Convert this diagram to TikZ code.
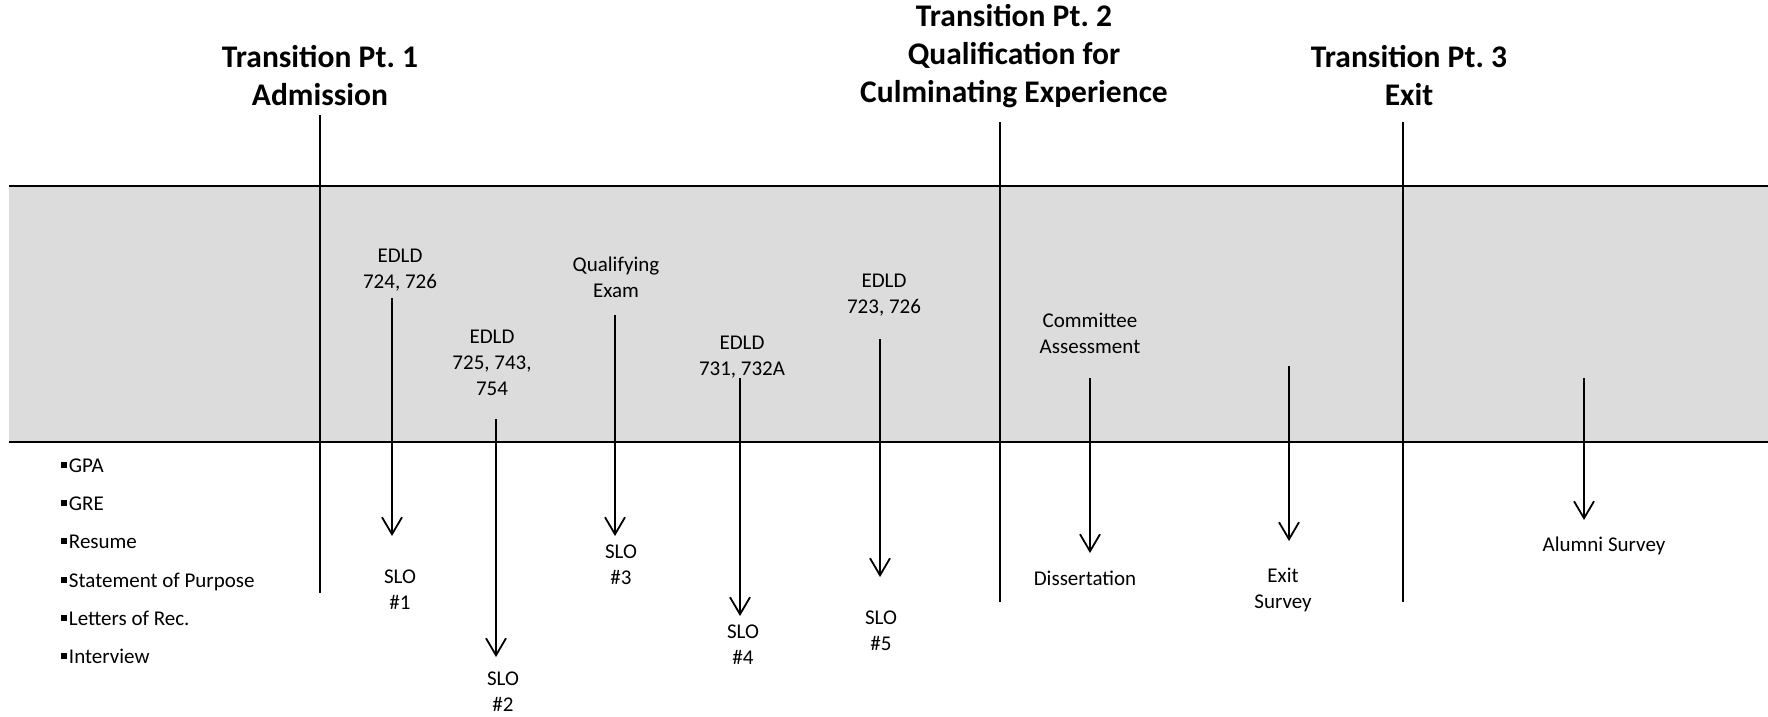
\documentclass[tikz,border=0pt]{standalone}
\usepackage{fontspec}
\setmainfont{Carlito}
\usetikzlibrary{arrows.meta}
\definecolor{band}{HTML}{DCDCDC}
\newcommand{\sq}{\rule[0.19em]{0.29em}{0.29em}\hspace{0.08em}}
\begin{document}
\frenchspacing
\begin{tikzpicture}[x=1pt,y=-1pt,
  title/.style={font=\fontsize{31.5}{38}\selectfont\bfseries, align=center, inner sep=0pt},
  lbl/.style={font=\fontsize{21}{25.7}\selectfont, align=center, inner sep=0pt},
  item/.style={font=\fontsize{21}{25.7}\selectfont, anchor=base west, inner sep=0pt},
  hline/.style={line width=2.5pt},
  vline/.style={line width=2pt},
  arr/.style={line width=1.8pt, -{Straight Barb[length=17pt,width=20pt,line width=1.8pt]}}]
\useasboundingbox (0,0) rectangle (1768,716);
% band
\fill[band] (9,186) rectangle (1768,442);
\coordinate (tl) at (9,186);  \coordinate (tr) at (1768,186);
\coordinate (bl) at (9,442);  \coordinate (br) at (1768,442);
\draw[hline] (tl) -- (tr);
\draw[hline] (bl) -- (br);
% transition lines
\coordinate (v1t) at (320,115); \coordinate (v1b) at (320,593);
\coordinate (v2t) at (1000,122); \coordinate (v2b) at (1000,602);
\coordinate (v3t) at (1403,122); \coordinate (v3b) at (1403,602);
\draw[vline] (v1t) -- (v1b);
\draw[vline] (v2t) -- (v2b);
\draw[vline] (v3t) -- (v3b);
% titles
\node[title] (t1) at (320,76) {Transition Pt. 1\\Admission};
\node[title] (t2) at (1014,56) {Transition Pt. 2\\Qualification for\\Culminating Experience};
\node[title] (t3) at (1409,76) {Transition Pt. 3\\Exit};
% upper labels
\node[lbl] (l1) at (400,270) {EDLD\\724, 726};
\node[lbl] (l2) at (492,363) {EDLD\\725, 743,\\754};
\node[lbl] (l3) at (616,277) {Qualifying\\Exam};
\node[lbl] (l4) at (742,357) {EDLD\\731, 732A};
\node[lbl] (l5) at (884,295) {EDLD\\723, 726};
\node[lbl] (l6) at (1090,333) {Committee\\Assessment};
% lower labels
\node[lbl] (s1) at (400,590) {SLO\\\#1};
\node[lbl] (s2) at (503,692) {SLO\\\#2};
\node[lbl] (s3) at (621,565) {SLO\\\#3};
\node[lbl] (s4) at (743,645) {SLO\\\#4};
\node[lbl] (s5) at (881,631) {SLO\\\#5};
\node[lbl] (s6) at (1085,578) {Dissertation};
\node[lbl] (s7) at (1283,590) {Exit\\Survey};
\node[lbl] (s8) at (1604,546) {Alumni Survey};
% arrows
\coordinate (a1s) at (392,298);  \coordinate (a1e) at (392,536);
\coordinate (a2s) at (496,419);  \coordinate (a2e) at (496,657);
\coordinate (a3s) at (615,315);  \coordinate (a3e) at (615,536);
\coordinate (a4s) at (740,378);  \coordinate (a4e) at (740,616);
\coordinate (a5s) at (880,339);  \coordinate (a5e) at (880,577);
\coordinate (a6s) at (1090,378); \coordinate (a6e) at (1090,553);
\coordinate (a7s) at (1289,366); \coordinate (a7e) at (1289,541);
\coordinate (a8s) at (1584,378); \coordinate (a8e) at (1584,520);
\foreach \i in {1,...,8} { \draw[arr] (a\i s) -- (a\i e); }
% admission items
\node[item] (i1) at (61,472) {\sq GPA};
\node[item] (i2) at (61,510) {\sq GRE};
\node[item] (i3) at (61,548) {\sq Resume};
\node[item] (i4) at (61,587) {\sq Statement of Purpose};
\node[item] (i5) at (61,625) {\sq Letters of Rec.};
\node[item] (i6) at (61,663) {\sq Interview};
\end{tikzpicture}
\end{document}
